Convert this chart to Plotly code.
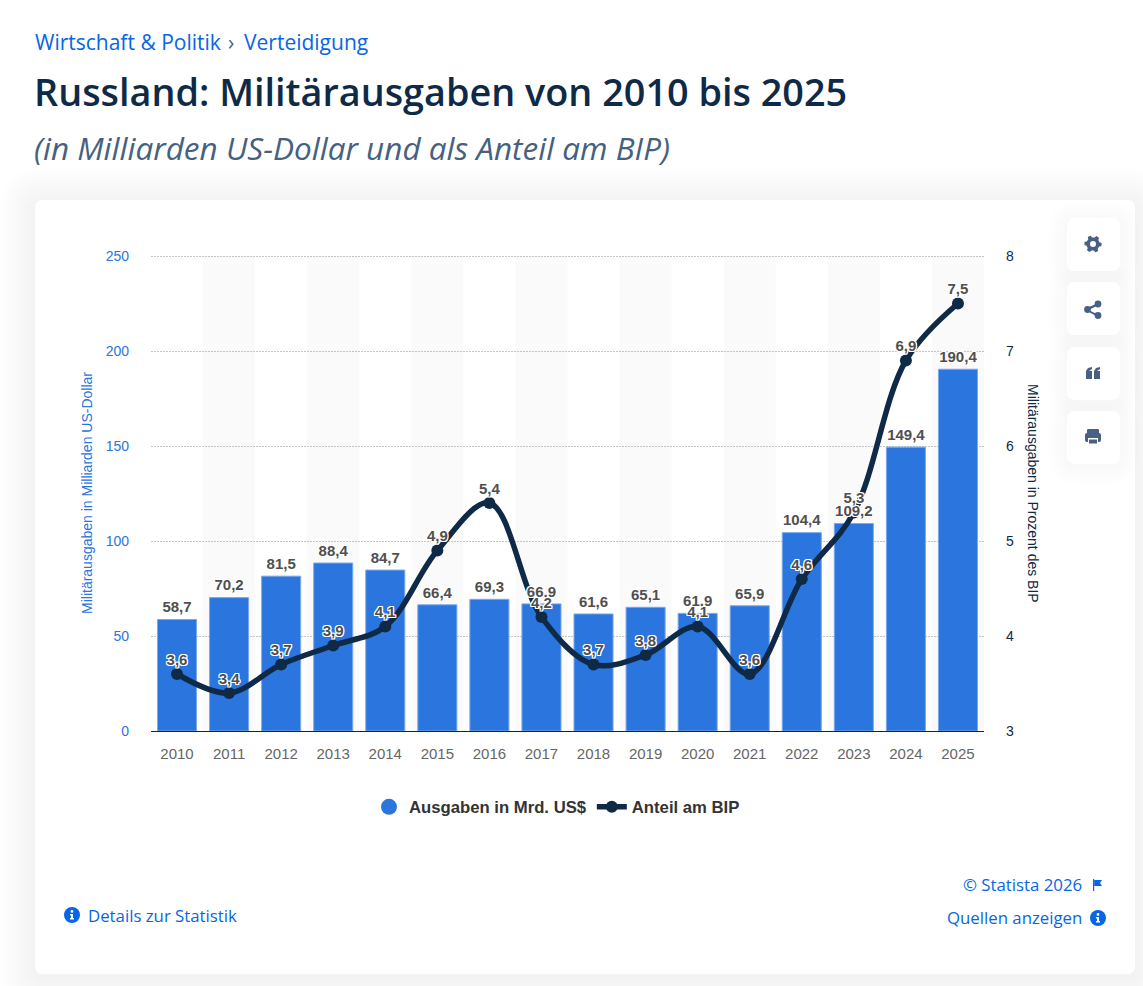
import math

import plotly.graph_objects as go

W = 1143
H = 986

YEARS = [str(y) for y in range(2010, 2026)]
SPENDING = [58.7, 70.2, 81.5, 88.4, 84.7, 66.4, 69.3, 66.9, 61.6, 65.1, 61.9, 65.9, 104.4, 109.2, 149.4, 190.4]
GDP_SHARE = [3.6, 3.4, 3.7, 3.9, 4.1, 4.9, 5.4, 4.2, 3.7, 3.8, 4.1, 3.6, 4.6, 5.3, 6.9, 7.5]
LEFT_TICKS = [0, 50, 100, 150, 200, 250]
RIGHT_TICKS = [3, 4, 5, 6, 7, 8]

BLUE_BAR = "#2a75de"
NAVY = "#0f2a46"
LINK = "#0666e5"
ICON = "#4a6082"
LABEL = "#4f4f4f"
HALO = ",".join(f"{a}px {b}px 0 #fff" for a in (-1, 0, 1) for b in (-1, 0, 1))

# plotly drops the grid line sitting right on the axis end, so the axes run a bit past 250 / 8
LEFT_RANGE = [0, 252.6]
RIGHT_RANGE = [3, 8.052]


# everything outside the plot is placed in screen pixels
def px(x):
    return x / W


def py(y):
    return 1 - y / H


def rounded(x0, y0, x1, y1, r):
    return (
        f"M{px(x0 + r)},{py(y0)} L{px(x1 - r)},{py(y0)} Q{px(x1)},{py(y0)} {px(x1)},{py(y0 + r)} "
        f"L{px(x1)},{py(y1 - r)} Q{px(x1)},{py(y1)} {px(x1 - r)},{py(y1)} "
        f"L{px(x0 + r)},{py(y1)} Q{px(x0)},{py(y1)} {px(x0)},{py(y1 - r)} "
        f"L{px(x0)},{py(y0 + r)} Q{px(x0)},{py(y0)} {px(x0 + r)},{py(y0)} Z"
    )


def box(x0, y0, x1, y1, r, color):
    return dict(type="path", xref="paper", yref="paper", layer="below", path=rounded(x0, y0, x1, y1, r),
                fillcolor=color, line_width=0)


def dot(cx, cy, r, color):
    return dict(type="circle", xref="paper", yref="paper", x0=px(cx - r), x1=px(cx + r),
                y0=py(cy + r), y1=py(cy - r), fillcolor=color, line_width=0)


def poly(points, color):
    path = "M" + " L".join(f"{px(x)},{py(y)}" for x, y in points) + " Z"
    return dict(type="path", xref="paper", yref="paper", path=path, fillcolor=color, line_width=0)


def shadow(x0, y0, x1, y1, r, spread, strength, shift=0):
    out = []
    for s in range(spread, 0, -3):
        out.append(box(x0 - s, y0 - s + shift, x1 + s, y1 + s + shift, r + s, f"rgba(30,50,90,{strength})"))
    return out


shapes = []
shapes += shadow(35, 200, 1135, 974, 8, 36, 0.004, 4)
shapes.append(box(35, 200, 1135, 974, 8, "#ffffff"))

# side buttons
for top in (218, 282, 347, 411):
    shapes += shadow(1067, top, 1120, top + 53, 8, 18, 0.004, 2)
for top in (218, 282, 347, 411):
    shapes.append(box(1067, top, 1120, top + 53, 8, "#ffffff"))

# alternating column bands
for i in range(1, len(YEARS), 2):
    shapes.append(dict(type="rect", xref="x", yref="y", layer="below", x0=i - 0.5, x1=i + 0.5,
                       y0=0, y1=250, fillcolor="#fafafa", line_width=0))

# gear
gear = []
for k in range(48):
    a = 2 * math.pi * k / 48
    r = 8.6 if (k + 1) % 8 < 4 else 6.6
    gear.append((1093 + r * math.cos(a), 244 + r * math.sin(a)))
shapes.append(poly(gear, ICON))
shapes.append(dot(1093, 244, 3, "#ffffff"))

# share
shapes.append(poly([(1087, 308), (1098, 303), (1099, 305), (1088.5, 310), (1099, 315), (1098, 317), (1087, 311)], ICON))
shapes += [dot(1087.5, 309.5, 3.4, ICON), dot(1098, 304, 3.4, ICON), dot(1098, 315.5, 3.4, ICON)]

# quotes
for left in (1086, 1094):
    shapes.append(poly([(left + 6, 367), (left + 6, 369), (left + 3, 371), (left + 6, 371), (left + 6, 379),
                        (left, 379), (left, 371), (left + 2, 368)], ICON))

# printer
printer = [box(1085, 433, 1101, 442, 2, ICON), box(1087, 429, 1099, 434, 1, ICON),
           box(1088, 438, 1098, 445, 0, "#ffffff"), box(1089, 439.5, 1097, 443.5, 0, ICON)]
for shape in printer:
    shape["layer"] = "above"
shapes += printer

# footer icons
for cx, cy in ((72, 915), (1098, 918)):
    shapes.append(dot(cx, cy, 8, LINK))
    shapes.append(dot(cx, cy - 3.6, 1.4, "#ffffff"))
    shapes.append(poly([(cx - 2, cy - 1), (cx + 1, cy - 1), (cx + 1, cy + 3), (cx + 2, cy + 3), (cx + 2, cy + 4.6),
                        (cx - 2, cy + 4.6), (cx - 2, cy + 3), (cx - 1, cy + 3), (cx - 1, cy + 0.6), (cx - 2, cy + 0.6)],
                       "#ffffff"))
shapes.append(poly([(1093, 879), (1094.2, 879), (1094.2, 891), (1093, 891)], LINK))
shapes.append(poly([(1094.2, 880), (1102, 880), (1100, 883), (1102, 886), (1094.2, 886)], LINK))


def note(x, y, text, size, color, anchor="left", weight=400, style="normal", family="Open Sans", angle=0):
    return dict(xref="paper", yref="paper", x=px(x), y=py(y), text=text, showarrow=False, xanchor=anchor,
                yanchor="middle", textangle=angle,
                font=dict(family=family, size=size, color=color, weight=weight, style=style))


annotations = [
    note(33, 42, "Wirtschaft &amp; Politik", 21, LINK),
    note(226, 42, "›", 21, "#46607f"),
    note(242, 42, "Verteidigung", 21, LINK),
    note(32, 91, "Russland: Militärausgaben von 2010 bis 2025", 37.8, NAVY, weight=600),
    note(32, 147, "(in Milliarden US-Dollar und als Anteil am BIP)", 31.5, "#46607f", style="italic"),
    note(1084, 884, "© Statista 2026", 16.8, LINK, anchor="right"),
    note(1084, 917, "Quellen anzeigen", 16.8, LINK, anchor="right"),
    note(86, 915, "Details zur Statistik", 16.8, LINK),
    # axis titles: the right one reads top to bottom, which a plotly axis title won't do
    note(87, 493, "Militärausgaben in Milliarden US-Dollar", 14, BLUE_BAR, anchor="center",
         family="Liberation Sans", angle=-90),
    note(1033, 493, "Militärausgaben in Prozent des BIP", 14, NAVY, anchor="center",
         family="Liberation Sans", angle=90),
]

fig = go.Figure()

fig.add_trace(go.Bar(
    x=YEARS,
    y=SPENDING,
    showlegend=False,
    width=0.75,
    marker=dict(color=BLUE_BAR, line=dict(color="#7aa8ea", width=1)),
))

# legend only: the bars get a round swatch in the reference
fig.add_trace(go.Scatter(
    x=[None],
    y=[None],
    mode="markers",
    name="Ausgaben in Mrd. US$",
    marker=dict(color=BLUE_BAR, size=17, symbol="circle"),
))

fig.add_trace(go.Scatter(
    x=YEARS,
    y=GDP_SHARE,
    yaxis="y2",
    name="Anteil am BIP",
    mode="lines+markers",
    line=dict(color=NAVY, width=5.5, shape="spline", smoothing=1.0),
    marker=dict(color=NAVY, size=12),
    cliponaxis=False,
))

# data labels go on their own overlay axes so they sit above the line, line labels on top
fig.add_trace(go.Scatter(
    x=YEARS,
    y=SPENDING,
    yaxis="y3",
    mode="markers+text",
    showlegend=False,
    hoverinfo="skip",
    marker=dict(size=4, opacity=0),
    text=[f"{v:.1f}".replace(".", ",") for v in SPENDING],
    textposition="top center",
    textfont=dict(family="Liberation Sans", size=15, color=LABEL, weight=700, shadow=HALO),
    cliponaxis=False,
))
fig.add_trace(go.Scatter(
    x=YEARS,
    y=GDP_SHARE,
    yaxis="y4",
    mode="markers+text",
    showlegend=False,
    hoverinfo="skip",
    marker=dict(size=7, opacity=0),
    text=[f"{v:.1f}".replace(".", ",") for v in GDP_SHARE],
    textposition="top center",
    textfont=dict(family="Liberation Sans", size=15, color=LABEL, weight=700, shadow=HALO),
    cliponaxis=False,
))

plot_domain = [py(731), py(731 - 252.6 * 1.9)]

fig.update_layout(
    width=W,
    height=H,
    autosize=False,
    margin=dict(l=0, r=0, t=0, b=0, autoexpand=False),
    paper_bgcolor="#ffffff",
    plot_bgcolor="rgba(0,0,0,0)",
    font=dict(family="Liberation Sans"),
    shapes=shapes,
    annotations=annotations,
    xaxis=dict(
        domain=[px(151), px(984)],
        type="category",
        range=[-0.5, 15.5],
        showgrid=False,
        showline=True,
        linecolor="#222222",
        linewidth=1,
        ticks="",
        ticklabelstandoff=9,
        tickfont=dict(size=15, color="#666666"),
    ),
    yaxis=dict(
        domain=plot_domain,
        range=LEFT_RANGE,
        tickvals=LEFT_TICKS,
        showgrid=True,
        griddash="2px,1px",
        gridcolor="#c4c4c4",
        gridwidth=1,
        zeroline=False,
        ticklabelstandoff=21,
        tickfont=dict(size=14, color=BLUE_BAR),
    ),
    yaxis2=dict(
        domain=plot_domain,
        range=RIGHT_RANGE,
        overlaying="y",
        side="right",
        tickvals=RIGHT_TICKS,
        showgrid=False,
        zeroline=False,
        ticklabelstandoff=21,
        tickfont=dict(size=14, color=NAVY),
    ),
    yaxis3=dict(domain=plot_domain, range=LEFT_RANGE, overlaying="y", visible=False),
    yaxis4=dict(domain=plot_domain, range=RIGHT_RANGE, overlaying="y", visible=False),
    legend=dict(
        orientation="h",
        xref="container",
        yref="container",
        x=px(369),
        y=py(807),
        xanchor="left",
        yanchor="middle",
        itemwidth=30,
        font=dict(size=16.7, color="#333333", weight=700),
        bgcolor="rgba(0,0,0,0)",
    ),
)

fig.write_html("out.html", config=dict(displayModeBar=False),
               post_script="document.body.style.margin='0';document.body.style.overflow='hidden';")
